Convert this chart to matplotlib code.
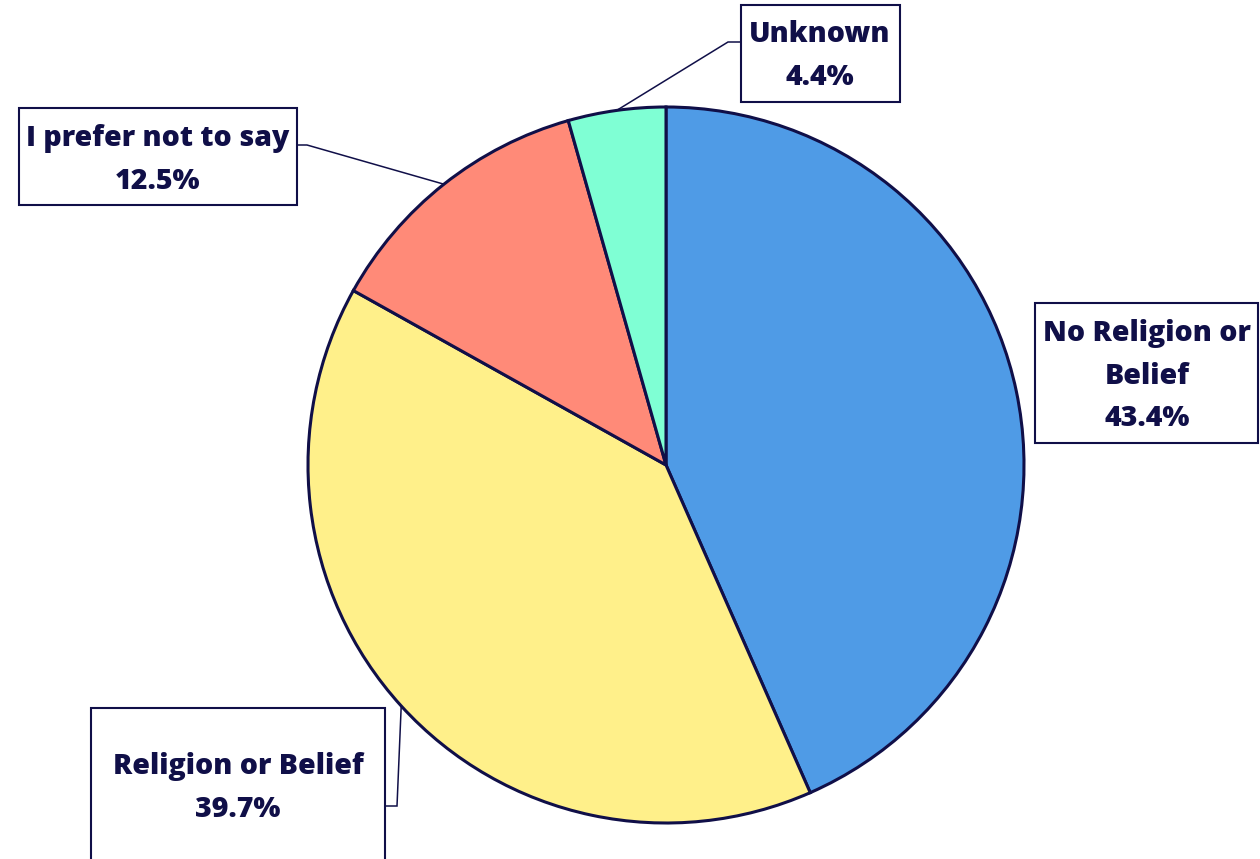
import numpy as np
import matplotlib.pyplot as plt
from matplotlib.patches import Rectangle

# Données
categories = ['No Religion or\nBelief', 'Religion or Belief', 'I prefer not to say', 'Unknown']
valeurs = [43.4, 39.7, 12.5, 4.4]
couleurs = ['#4f9be6', '#fff08a', '#ff8a78', '#7fffd4']

navy = '#100f48'
W, H = 1260, 859

plt.rcParams['font.family'] = ['Open Sans', 'DejaVu Sans']

fig = plt.figure(figsize=(W / 100, H / 100), dpi=100)
ax = fig.add_axes([0, 0, 1, 1])

cx, cy, r = 666, H - 465, 358
wedges, _ = ax.pie(valeurs, colors=couleurs, startangle=90, counterclock=False,
                   center=(cx, cy), radius=r, frame=True,
                   wedgeprops=dict(edgecolor=navy, linewidth=2.2))
ax.set_xlim(0, W)
ax.set_ylim(0, H)
ax.set_aspect('equal')
ax.axis('off')

# Boîtes d'étiquettes : (x0, y0_haut, largeur, hauteur) en pixels depuis le haut
boites = [
    (1035, 303, 223, 140),
    (91, 708, 294, 170),
    (19, 108, 278, 97),
    (741, 5, 159, 97),
]
# point d'attache du trait sur la boîte (x, y depuis le haut), None = pas de trait
attaches = [None, (385, 806), (297, 145), (741, 42)]
coudes = [None, (397, 806), (307, 145), (728, 42)]
centres_texte = [(1147, 376), (238, 788), (158, 160), (820, 56)]

for i, (w, lab, val) in enumerate(zip(wedges, categories, valeurs)):
    x0, yt, bw, bh = boites[i]
    ax.add_patch(Rectangle((x0, H - yt - bh), bw, bh, facecolor='white',
                           edgecolor=navy, linewidth=1.5, zorder=3))
    tx, ty = centres_texte[i]
    ax.text(tx, H - ty, f'{lab}\n{val:.1f}%', ha='center', va='center',
            fontsize=20.5, fontweight=800, color=navy, linespacing=1.6, zorder=4)
    if attaches[i] is not None:
        ang = np.deg2rad((w.theta1 + w.theta2) / 2)
        px, py = cx + r * np.cos(ang), cy + r * np.sin(ang)
        ax_, ay_ = attaches[i]
        kx, ky = coudes[i]
        ax.plot([ax_, kx, px], [H - ay_, H - ky, py], color=navy,
                linewidth=1.1, zorder=2, solid_joinstyle='miter')

fig.savefig('out.png', dpi=100)
